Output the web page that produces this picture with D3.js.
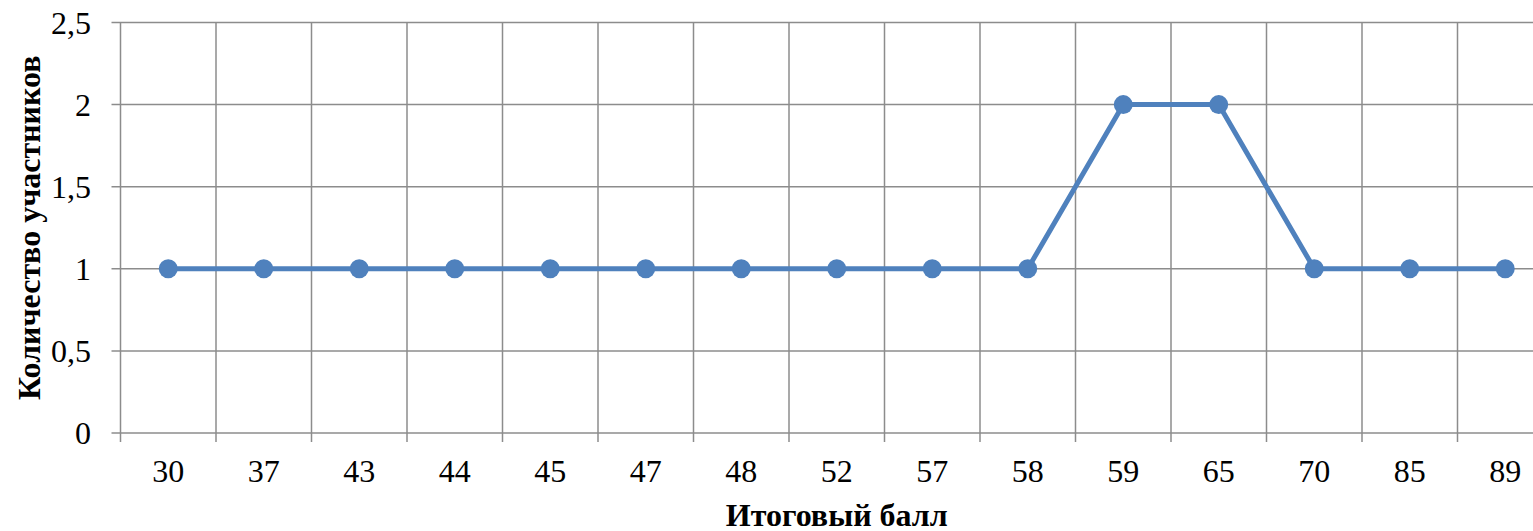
<!DOCTYPE html>
<html><head><meta charset="utf-8">
<script src="https://cdn.jsdelivr.net/npm/d3@7"></script>
<style>body{margin:0;background:#fff;overflow:hidden}svg{display:block}</style>
</head><body>
<script>
const categories = ["30","37","43","44","45","47","48","52","57","58","59","65","70","85","89"];
const values = [1,1,1,1,1,1,1,1,1,1,2,2,1,1,1];
const yTicks = [0,0.5,1,1.5,2,2.5];
const xTitle = "Итоговый балл";
const yTitle = "Количество участников";

const W = 1533, H = 531;
const m = {left:120.5, top:22.5, bottom:433};
const plotW = 95.5*categories.length;
const svg = d3.select("body").append("svg").attr("width",W).attr("height",H);
const x = d3.scaleBand().domain(categories).range([m.left, m.left+plotW]);
const y = d3.scaleLinear().domain([0,2.5]).range([m.bottom, m.top]);
const grid = "#8c8c8c";
const font = "'Liberation Serif','Times New Roman',serif";

// horizontal gridlines
svg.append("g").selectAll("line").data(yTicks).join("line")
  .attr("x1",m.left-9).attr("x2",m.left+plotW)
  .attr("y1",d=>y(d)).attr("y2",d=>y(d))
  .attr("stroke",grid).attr("stroke-width",1.5);
// vertical gridlines at band boundaries
const bounds = categories.map(c=>x(c)).concat([m.left+plotW]);
svg.append("g").selectAll("line").data(bounds).join("line")
  .attr("x1",d=>d).attr("x2",d=>d)
  .attr("y1",m.top).attr("y2",m.bottom+9)
  .attr("stroke",grid).attr("stroke-width",1.5);

// y labels
svg.append("g").selectAll("text").data(yTicks).join("text")
  .attr("x",91).attr("y",d=>y(d)).attr("dy","0.35em")
  .attr("text-anchor","end").attr("font-family",font).attr("font-size",32)
  .text(d=>String(d).replace(".",","));
// x labels
svg.append("g").selectAll("text").data(categories).join("text")
  .attr("x",d=>x(d)+x.bandwidth()/2).attr("y",482)
  .attr("text-anchor","middle").attr("font-family",font).attr("font-size",32)
  .text(d=>d);

// line
const line = d3.line().x((d,i)=>x(categories[i])+x.bandwidth()/2).y(d=>y(d));
svg.append("path").datum(values).attr("d",line)
  .attr("fill","none").attr("stroke","#4f81bd").attr("stroke-width",5).attr("stroke-linejoin","round");
svg.append("g").selectAll("circle").data(values).join("circle")
  .attr("cx",(d,i)=>x(categories[i])+x.bandwidth()/2).attr("cy",d=>y(d))
  .attr("r",9.5).attr("fill","#4f81bd");

// titles
svg.append("text").attr("x",m.left+plotW/2).attr("y",526)
  .attr("text-anchor","middle").attr("font-family",font).attr("font-weight","bold").attr("font-size",32)
  .text(xTitle);
svg.append("text").attr("transform",`translate(40,${(m.top+m.bottom)/2}) rotate(-90)`)
  .attr("text-anchor","middle").attr("font-family",font).attr("font-weight","bold").attr("font-size",32)
  .text(yTitle);
</script>
</body></html>
